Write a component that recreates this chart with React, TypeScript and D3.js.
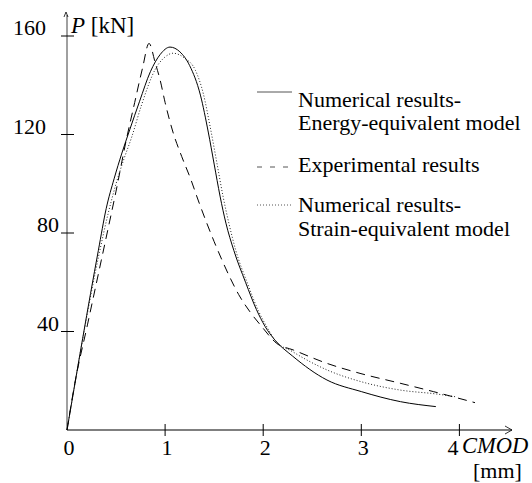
import React from "react";
import * as d3 from "d3";

const energyCMOD = [0, 0.32, 0.4, 0.48, 0.56, 0.64, 0.74, 0.85, 0.95, 1.05, 1.15, 1.25, 1.36, 1.44, 1.5, 1.56, 1.62, 1.7, 1.82, 1.93, 2.02, 2.12, 2.3, 2.65, 3.0, 3.4, 3.76];
const energyP = [0, 73, 90, 102, 112.5, 122, 133.5, 145.5, 152.5, 155.5, 153.6, 148, 136, 121, 108, 95, 84, 73, 60, 49, 42, 36.5, 30, 20.3, 15.6, 11.5, 9.5];

const strainCMOD = [0, 0.33, 0.42, 0.5, 0.58, 0.66, 0.76, 0.9, 1.0, 1.08, 1.2, 1.31, 1.39, 1.46, 1.53, 1.59, 1.65, 1.72, 1.84, 1.95, 2.05, 2.12, 2.3, 2.65, 3.0, 3.4, 3.77, 3.96];
const strainP = [0, 72, 88, 100, 110, 119, 132, 146.5, 151.5, 153, 151, 146, 136.5, 123, 108, 95, 84, 73, 59.5, 48.5, 41, 36.5, 31.8, 24.4, 19.6, 16.2, 14.6, 13.5];

const expCMOD = [0, 0.08, 0.21, 0.35, 0.42, 0.5, 0.6, 0.69, 0.77, 0.836, 0.9, 0.95, 1.0, 1.08, 1.17, 1.26, 1.34, 1.42, 1.5, 1.58, 1.66, 1.75, 1.865, 1.985, 2.137, 2.307, 2.647, 2.987, 3.395, 3.734, 4.159];
const expP = [0, 19, 43, 69, 82, 97, 117, 133, 147, 157, 149, 142, 133, 121, 111, 102, 93, 84.5, 76.5, 69, 62, 55, 48, 42, 35.2, 32.5, 27.1, 23, 19, 15.6, 11.1];

const xTicks = [0, 1, 2, 3, 4];
const yTicks = [40, 80, 120, 160];

const legendLines1 = ["Numerical results-", "Energy-equivalent model"];
const legendLines2 = ["Experimental results"];
const legendLines3 = ["Numerical results-", "Strain-equivalent model"];

const FONT = '"Liberation Serif", "Times New Roman", "DejaVu Serif", serif';

export default function App() {
  const W = 532, H = 483;
  const x = d3.scaleLinear().domain([0, 4]).range([67, 459.4]);
  const y = d3.scaleLinear().domain([0, 160]).range([430, 36]);
  const line = d3.line<[number, number]>()
    .x(d => x(d[0]))
    .y(d => y(d[1]))
    .curve(d3.curveMonotoneX);
  const zip = (a: number[], b: number[]) => a.map((v, i) => [v, b[i]] as [number, number]);

  const x0 = x(0), y0 = y(0);
  const ts = { fontFamily: FONT };

  return (
    <svg width={W} height={H} viewBox={`0 0 ${W} ${H}`}
      style={{ position: "absolute", left: 0, top: 0, background: "#fff", fontFamily: FONT }}>
      <rect x={0} y={0} width={W} height={H} fill="#fff" />
      {/* y axis */}
      <line x1={x0} y1={y0} x2={x0} y2={15} stroke="#a0a0a0" strokeWidth={2} />
      <path d={`M${x0 - 3},${17} L${x0 - 1},${12} L${x0 + 1},${17}`} fill="none" stroke="#000" strokeWidth={0.8} />
      {yTicks.map(t => (
        <line key={t} x1={x0 - 6} x2={x0 + 7} y1={y(t)} y2={y(t)} stroke="#000" strokeWidth={1} />
      ))}
      {yTicks.map(t => (
        <text key={"l" + t} style={ts} x={t >= 120 ? 46 : 59} y={y(t) - 1} fontSize={22} textAnchor="end" fill="#000">{t}</text>
      ))}
      <text style={ts} x={71} y={33} fontSize={23} fill="#000">
        <tspan fontStyle="italic">P</tspan> [kN]
      </text>

      {/* x axis */}
      <line x1={x0} y1={y0} x2={512} y2={y0} stroke="#000" strokeWidth={1.2} />
      <path d={`M505,${y0 - 4} L512,${y0} L505,${y0 + 4}`} fill="none" stroke="#000" strokeWidth={0.8} />
      {xTicks.filter(t => t > 0).map(t => (
        <line key={t} x1={x(t)} x2={x(t)} y1={y0 - 6} y2={y0 + 6} stroke="#000" strokeWidth={1} />
      ))}
      {xTicks.map(t => (
        <text key={"x" + t} style={ts} x={t === 4 ? x(t) - 1 : x(t) + 2} y={455} fontSize={22}
          textAnchor={t === 4 ? "end" : "middle"} fill="#000">{t}</text>
      ))}
      <text style={ts} x={462} y={453} fontSize={22.5} fontStyle="italic" fill="#000">CMOD</text>
      <text style={ts} x={473} y={478} fontSize={22} fill="#000">[mm]</text>

      {/* curves */}
      <path d={line(zip(energyCMOD, energyP)) || ""} fill="none" stroke="#000" strokeWidth={1} />
      <path d={line(zip(strainCMOD, strainP)) || ""} fill="none" stroke="#222" strokeWidth={1} strokeDasharray="1,2" />
      <path d={line(zip(expCMOD, expP)) || ""} fill="none" stroke="#000" strokeWidth={1} strokeDasharray="9,6" />

      {/* legend */}
      <line x1={257} x2={292} y1={92} y2={92} stroke="#555" strokeWidth={1} />
      {legendLines1.map((s, i) => (
        <text key={"a" + i} style={ts} x={298} y={107 + i * 23} fontSize={22} fill="#000">{s}</text>
      ))}
      <line x1={257} x2={293} y1={167} y2={167} stroke="#555" strokeWidth={1} strokeDasharray="5,8" />
      {legendLines2.map((s, i) => (
        <text key={"b" + i} style={ts} x={298} y={172 + i * 23} fontSize={22} fill="#000">{s}</text>
      ))}
      <line x1={257} x2={293} y1={205} y2={205} stroke="#555" strokeWidth={1} strokeDasharray="1,2" />
      {legendLines3.map((s, i) => (
        <text key={"c" + i} style={ts} x={298} y={212 + i * 24} fontSize={22} fill="#000">{s}</text>
      ))}
    </svg>
  );
}
